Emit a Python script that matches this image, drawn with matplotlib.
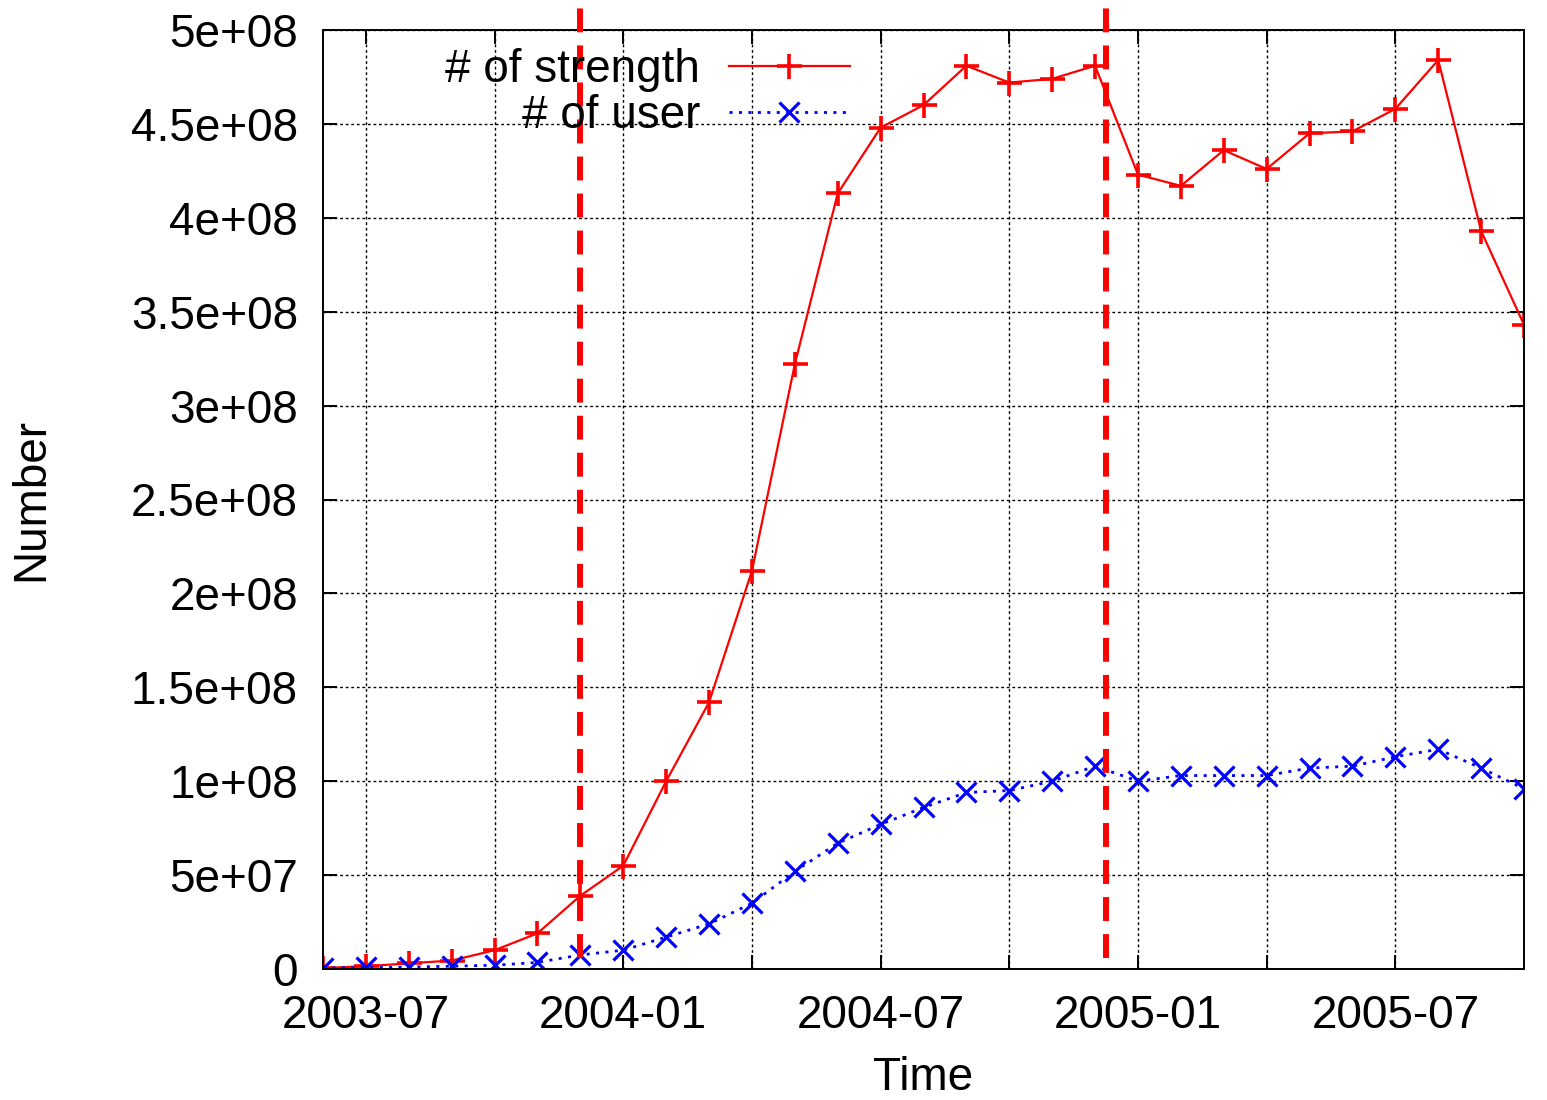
import numpy as np
import matplotlib
matplotlib.use("Agg")
import matplotlib.pyplot as plt

# monthly samples, index 0 = 2003-06 ... 28 = 2005-10
months = np.arange(29)
strength = [0.5e6, 1.5e6, 3e6, 4.5e6, 1.0e7, 1.9e7, 3.9e7, 5.5e7, 1.0e8, 1.42e8,
            2.12e8, 3.22e8, 4.13e8, 4.48e8, 4.6e8, 4.81e8, 4.72e8, 4.74e8, 4.81e8,
            4.23e8, 4.17e8, 4.36e8, 4.26e8, 4.45e8, 4.46e8, 4.58e8, 4.84e8, 3.93e8,
            3.43e8]
users = [0.5e6, 0.8e6, 1.0e6, 1.5e6, 2.0e6, 3.5e6, 7.5e6, 1.0e7, 1.7e7, 2.4e7,
         3.5e7, 5.2e7, 6.7e7, 7.7e7, 8.6e7, 9.4e7, 9.5e7, 1.0e8, 1.08e8,
         1.0e8, 1.03e8, 1.03e8, 1.03e8, 1.07e8, 1.08e8, 1.13e8, 1.17e8, 1.07e8,
         9.6e7]
phase_marks = [6.0, 18.25]

xtick_pos = [1, 4, 7, 10, 13, 16, 19, 22, 25]
xtick_lab = ["2003-07", "", "2004-01", "", "2004-07", "", "2005-01", "", "2005-07"]
ytick_pos = np.arange(0, 5.01e8, 5e7)
ytick_lab = ["0", "5e+07", "1e+08", "1.5e+08", "2e+08", "2.5e+08", "3e+08",
             "3.5e+08", "4e+08", "4.5e+08", "5e+08"]

plt.rcParams["font.family"] = ["Liberation Sans", "DejaVu Sans"]
fs = 33

fig = plt.figure(figsize=(15.47, 11), dpi=100)
ax = fig.add_axes([323/1547, 1-969/1100, (1524-323)/1547, (969-30)/1100])

ax.plot(months, strength, color="red", lw=1.6, marker="+", ms=18, mew=2.6,
        label="# of strength")
ax.plot(months, users, color="blue", lw=2.0, ls=(0, (1.1, 2.3)), marker="x", ms=15,
        mew=2.3, label="# of user")

for xm in phase_marks:
    ax.plot([xm, xm], [5.9e6, 5.16e8], color="red", lw=4.3, dashes=(4, 2.2),
            clip_on=False, zorder=5)

ax.set_xlim(0, 28)
ax.set_ylim(0, 5e8)
ax.set_xticks(xtick_pos)
ax.set_yticks(ytick_pos)
ax.set_yticklabels(ytick_lab, fontsize=fs)
ax.set_xticklabels(xtick_lab, fontsize=fs)
ax.tick_params(direction="in", length=10, width=1.4, top=True, right=True)
ax.tick_params(axis="x", pad=18)
ax.tick_params(axis="y", pad=18)
ax.grid(True, color="black", ls=(0, (2, 2)), lw=1.0)
for s in ax.spines.values():
    s.set_linewidth(1.4)

ax.set_xlabel("Time", fontsize=fs, labelpad=13)
ax.set_ylabel("Number", fontsize=fs, labelpad=56)

ax.legend(loc="upper right", bbox_to_anchor=(850/1547, 1-48/1100),
          bbox_transform=fig.transFigure, frameon=False, markerfirst=False,
          fontsize=fs, handlelength=2.65, handletextpad=0.62, borderpad=0,
          borderaxespad=0, labelspacing=0.05)

fig.savefig("out.png", dpi=100)
